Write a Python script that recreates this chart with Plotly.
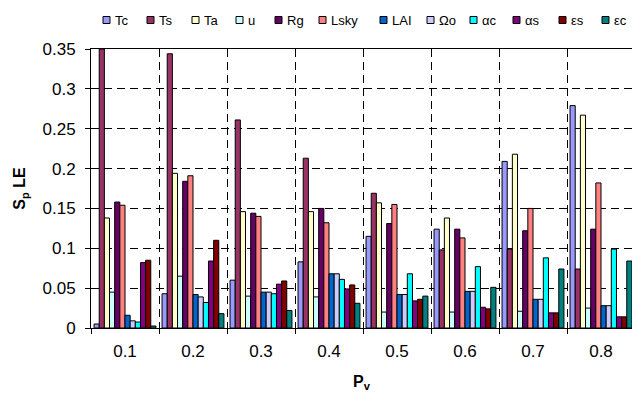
import plotly.graph_objects as go

# P_v classes on the x axis
categories = ["0.1", "0.2", "0.3", "0.4", "0.5", "0.6", "0.7", "0.8"]

# Sensitivity of LE to each input, one list per input
Tc    = [0.005, 0.043, 0.060, 0.083, 0.115, 0.124, 0.209, 0.279]
Ts    = [0.350, 0.344, 0.261, 0.213, 0.169, 0.098, 0.099, 0.074]
Ta    = [0.138, 0.194, 0.146, 0.146, 0.157, 0.138, 0.218, 0.267]
u     = [0.045, 0.065, 0.040, 0.039, 0.020, 0.020, 0.021, 0.025]
Rg    = [0.158, 0.184, 0.144, 0.150, 0.131, 0.124, 0.122, 0.124]
Lsky  = [0.154, 0.191, 0.140, 0.132, 0.155, 0.113, 0.150, 0.182]
LAI   = [0.016, 0.042, 0.045, 0.068, 0.042, 0.046, 0.036, 0.028]
Omega = [0.009, 0.039, 0.045, 0.068, 0.042, 0.046, 0.036, 0.028]
alpha_c = [0.0075, 0.032, 0.043, 0.061, 0.068, 0.077, 0.088, 0.099]
alpha_s = [0.082, 0.084, 0.055, 0.049, 0.034, 0.026, 0.019, 0.014]
eps_s   = [0.085, 0.110, 0.059, 0.054, 0.036, 0.024, 0.019, 0.014]
eps_c   = [0.0025, 0.018, 0.022, 0.031, 0.040, 0.051, 0.074, 0.084]

series_names = ["Tc", "Ts", "Ta", "u", "Rg", "Lsky", "LAI", "Ωo", "αc", "αs", "εs", "εc"]
series_values = [Tc, Ts, Ta, u, Rg, Lsky, LAI, Omega, alpha_c, alpha_s, eps_s, eps_c]
series_colors = ["#9999FF", "#993366", "#FFFFCC", "#CCFFFF", "#660066", "#FF8080",
                 "#0066CC", "#CCCCFF", "#00FFFF", "#800080", "#800000", "#008080"]

FONT = "Arial, Liberation Sans, sans-serif"
W, H = 632, 399
ML, MR, MT, MB = 91, 0, 49, 71
plot_w = W - ML - MR
plot_h = H - MT - MB
cat_px = 68  # width of one category slot in pixels

fig = go.Figure()
for name, vals, col in zip(series_names, series_values, series_colors):
    fig.add_trace(go.Bar(
        x=categories, y=vals, name=name,
        marker=dict(color=col, line=dict(color="black", width=1)),
        showlegend=False,
    ))

# Legend row drawn as small outlined squares with labels
legend_left_px = [103, 147, 192, 236, 275, 319, 380, 427, 470, 513, 559, 602]
legend_y = (H - MB - 20) / plot_h
shapes = []
annotations = []
for name, col, px in zip(series_names, series_colors, legend_left_px):
    xp = (px - ML) / plot_w
    shapes.append(dict(
        type="rect", xref="paper", yref="paper",
        xsizemode="pixel", ysizemode="pixel",
        xanchor=xp, yanchor=legend_y,
        x0=0, x1=7, y0=-3.5, y1=3.5,
        fillcolor=col, line=dict(color="black", width=1),
    ))
    annotations.append(dict(
        text=name, xref="paper", yref="paper",
        x=(px + 10 - ML) / plot_w, y=legend_y,
        xanchor="left", yanchor="middle", showarrow=False,
        font=dict(family=FONT, size=13, color="black"),
    ))

grid_dash = "8px,5px"
fig.update_layout(
    width=W, height=H,
    margin=dict(l=ML, r=MR, t=MT, b=MB, autoexpand=False),
    paper_bgcolor="white", plot_bgcolor="white",
    barmode="group", bargap=0.09, bargroupgap=0,
    font=dict(family=FONT, color="black"),
    shapes=shapes, annotations=annotations,
    xaxis=dict(
        type="category",
        range=[-0.5, -0.5 + plot_w / cat_px],
        tickson="boundaries",
        ticks="outside", ticklen=5, tickcolor="black",
        showgrid=True, gridcolor="black", gridwidth=1, griddash=grid_dash,
        showline=True, linecolor="black", linewidth=1, mirror=True,
        tickfont=dict(size=17, family=FONT),
        ticklabelstandoff=8,
        title=dict(text="<b>P<sub>v</sub></b>", font=dict(size=16, family=FONT), standoff=15),
        automargin=False,
    ),
    yaxis=dict(
        range=[0, 0.35], dtick=0.05,
        ticks="outside", ticklen=5, tickcolor="black",
        showgrid=True, gridcolor="black", gridwidth=1, griddash=grid_dash,
        showline=True, linecolor="black", linewidth=1,
        zeroline=False,
        tickfont=dict(size=17, family=FONT),
        ticklabelstandoff=6,
        title=dict(text="<b>S<sub>p</sub> LE</b>", font=dict(size=16, family=FONT), standoff=12),
        automargin=False,
    ),
)

fig.write_html("out.html")
